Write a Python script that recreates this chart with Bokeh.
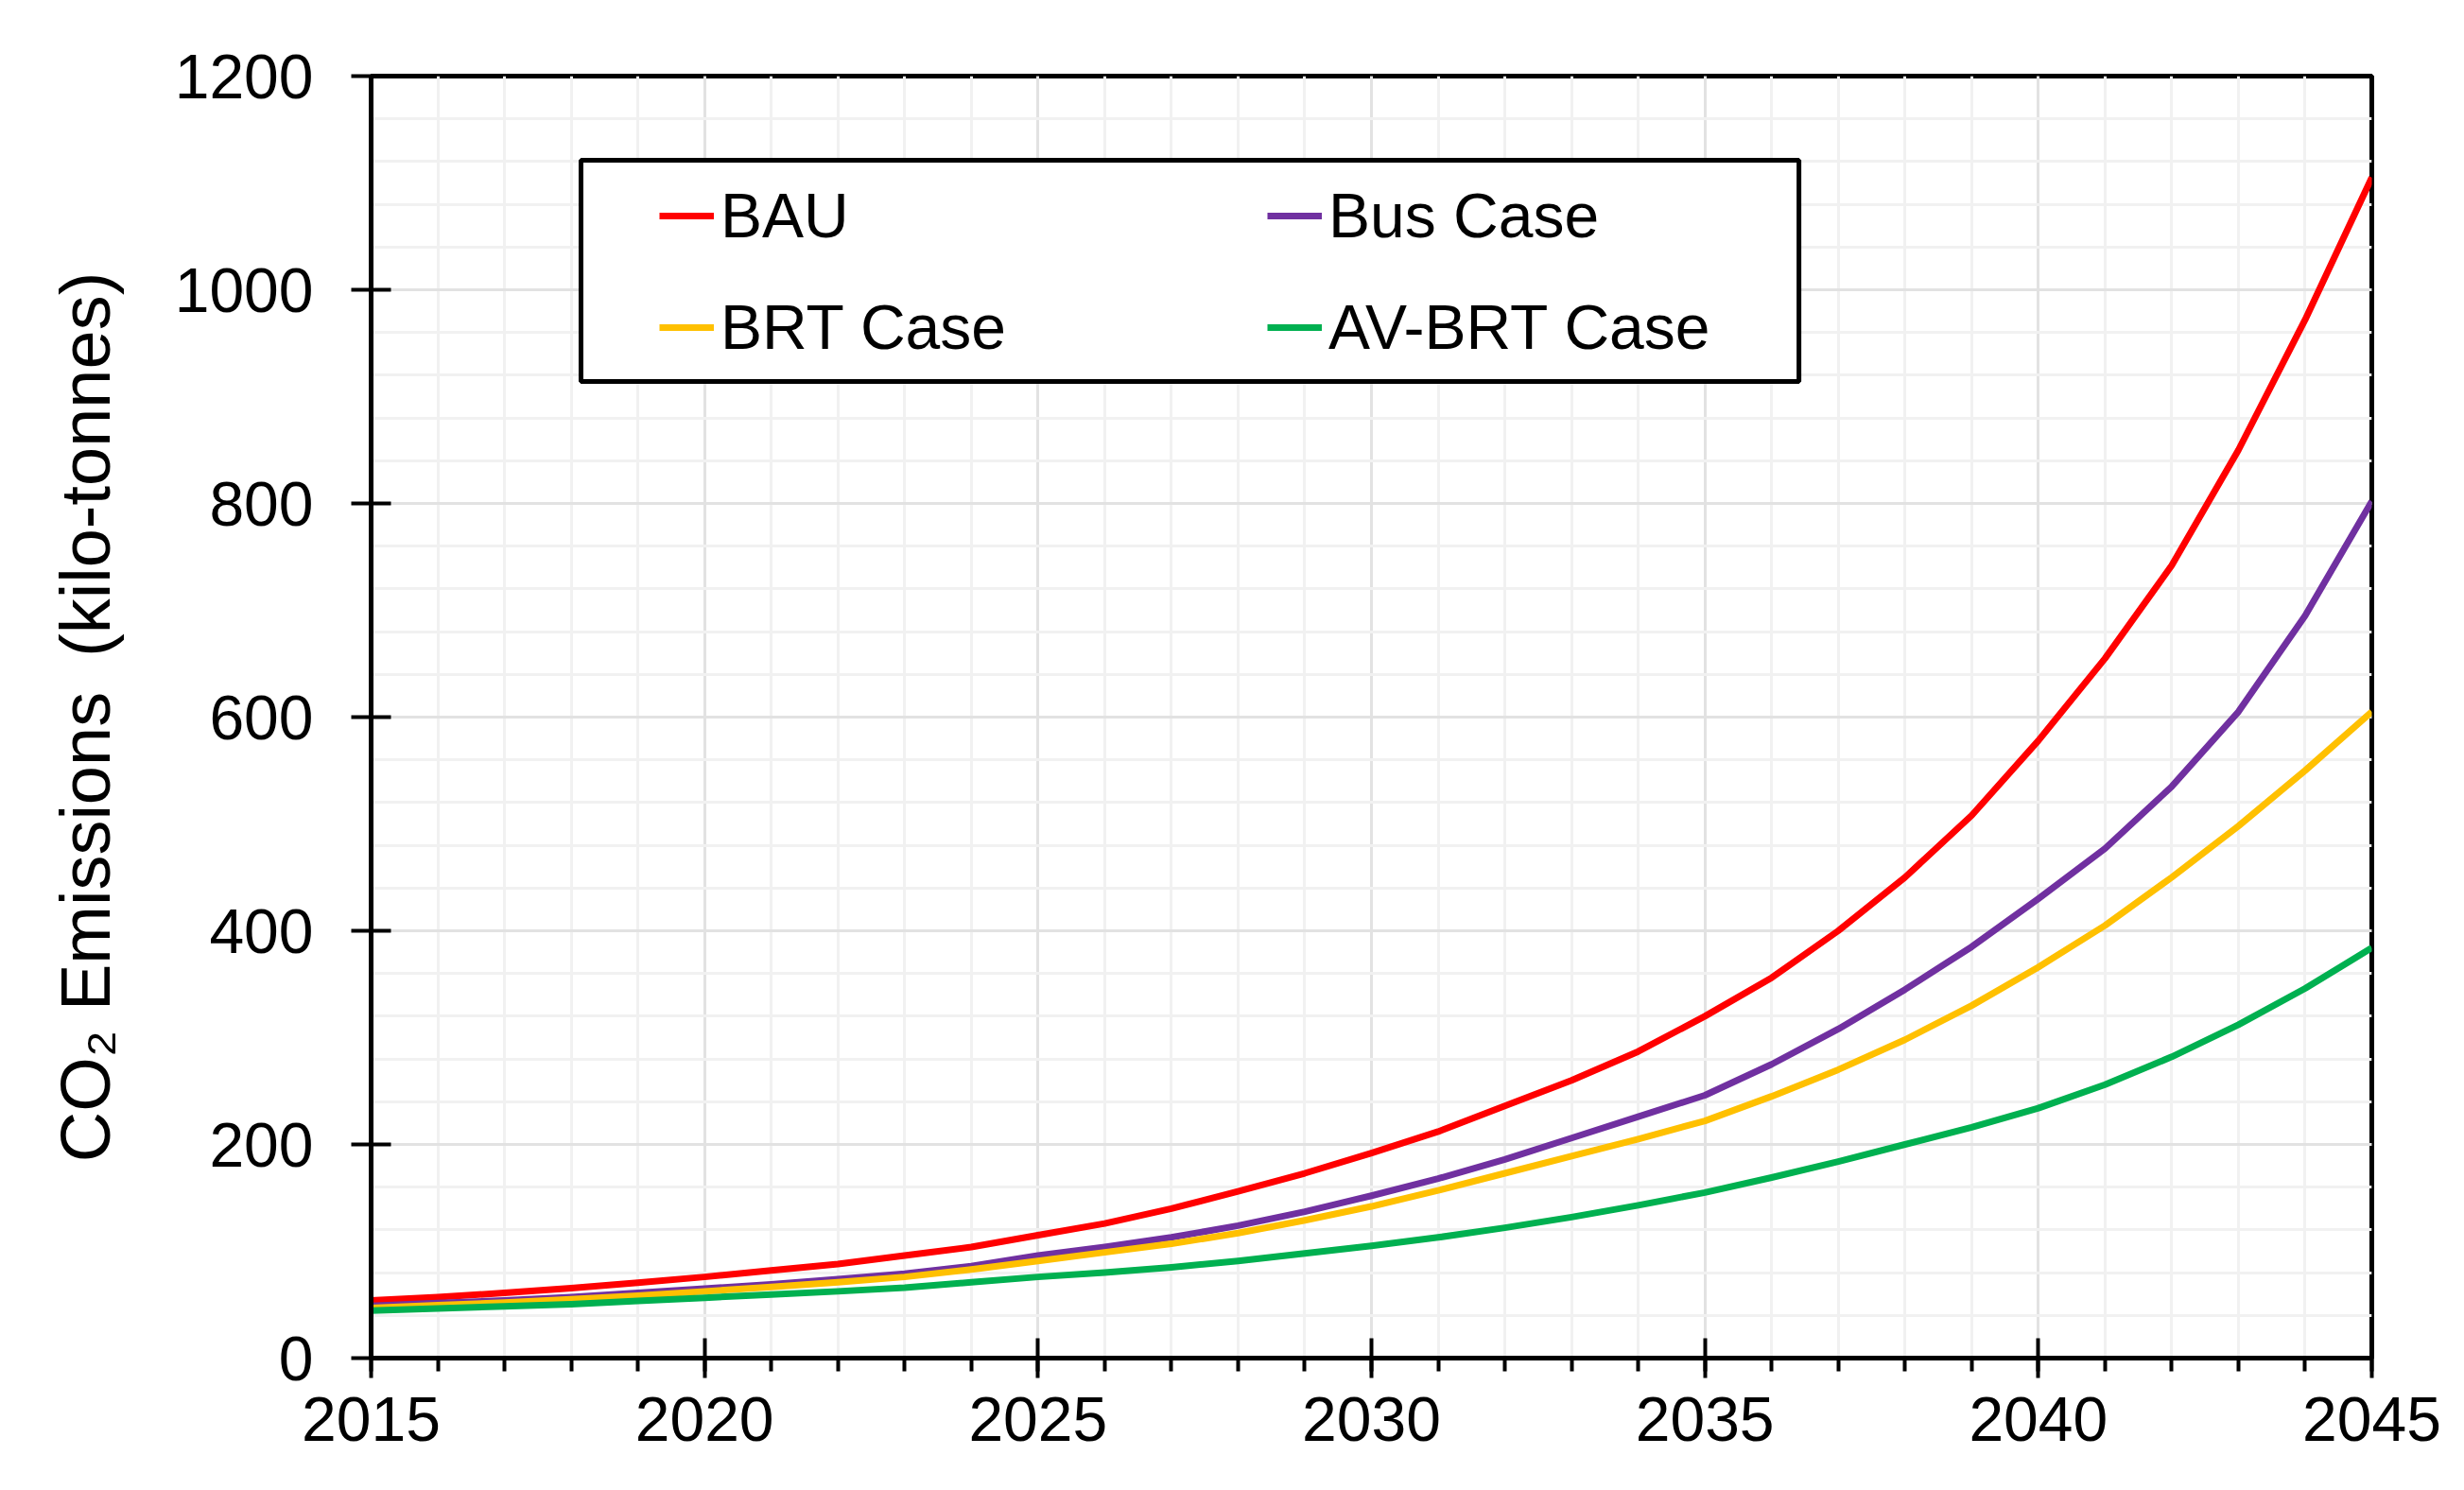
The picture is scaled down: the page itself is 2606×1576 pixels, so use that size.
from bokeh.plotting import figure
from bokeh.models import (Range1d, SingleIntervalTicker, Legend, LegendItem, BoxAnnotation)
from bokeh.embed import file_html
from bokeh.resources import INLINE

years = list(range(2015, 2046))
bau = [54, 57, 61, 65.5, 70.5, 76, 82, 88, 96, 104, 115, 126, 140, 156, 173, 192,
       212, 236, 260, 287, 320, 356, 400, 450, 508, 578, 655, 742, 850, 972, 1105]
bus = [49, 51.5, 54, 57, 61, 65, 69, 74, 79, 86, 96, 104, 113, 124, 137, 152,
       168, 186, 206, 226, 246, 275, 308, 345, 385, 430, 477, 535, 605, 695, 802]
brt = [47, 49.5, 52, 55, 58.5, 62.5, 66.5, 71, 76, 83, 91, 99, 107, 117, 129, 142,
       157, 173, 189, 205, 222, 245, 270, 298, 330, 366, 405, 450, 498, 550, 605]
avbrt = [44.5, 46.5, 48.5, 50.5, 53.5, 56.5, 59.5, 62.5, 66, 71, 76, 80, 85, 91, 98, 105,
         113, 122, 132, 143, 155, 169, 184, 200, 216, 234, 256, 282, 312, 346, 384]

series_names = ["BAU", "Bus Case", "BRT Case", "AV-BRT Case"]
series_values = [bau, bus, brt, avbrt]
series_colors = ["#FF0000", "#7030A0", "#FFC000", "#00B050"]

FONT = "Liberation Sans"

p = figure(width=2590, height=1560, output_backend="svg", toolbar_location=None,
           x_range=Range1d(2015, 2045), y_range=Range1d(0, 1200),
           min_border_left=392, min_border_right=82, min_border_top=80, min_border_bottom=124)
p.background_fill_color = "white"
p.border_fill_color = "white"
p.outline_line_color = "black"
p.outline_line_width = 5
p.outline_line_alpha = 1

p.xaxis.ticker = SingleIntervalTicker(interval=5, num_minor_ticks=5)
p.yaxis.ticker = SingleIntervalTicker(interval=200, num_minor_ticks=5)

for ax in (p.xaxis, p.yaxis):
    ax.axis_line_width = 5
    ax.axis_line_color = "black"
    ax.major_tick_line_width = 4
    ax.major_tick_line_color = "black"
    ax.major_tick_in = 21
    ax.major_tick_out = 21
    ax.major_label_text_font = FONT
    ax.major_label_text_font_size = "66px"
    ax.major_label_text_color = "black"

p.xaxis.minor_tick_in = 0
p.xaxis.minor_tick_out = 14
p.xaxis.minor_tick_line_width = 4
p.xaxis.minor_tick_line_color = "black"
p.xaxis.major_label_standoff = 20

p.yaxis.minor_tick_line_color = None
p.yaxis.major_label_standoff = 40
p.yaxis.axis_label = "CO\u2082 Emissions\u2002(kilo-tonnes)"
p.yaxis.axis_label_text_font = FONT
p.yaxis.axis_label_text_font_size = "74px"
p.yaxis.axis_label_text_font_style = "normal"
p.yaxis.axis_label_text_color = "black"
p.yaxis.axis_label_standoff = 50

for g in (p.xgrid, p.ygrid):
    g.grid_line_color = "#e2e2e2"
    g.grid_line_width = 3
    g.minor_grid_line_color = "#f1f1f1"
    g.minor_grid_line_width = 3

items = []
for name, vals, col in zip(series_names, series_values, series_colors):
    r = p.line(years, vals, line_color=col, line_width=7, line_join="round")
    items.append(LegendItem(label=name, renderers=[r]))

frame_box = BoxAnnotation(left=2018.147, right=2036.41, bottom=914.2, top=1121.2,
                          fill_color="white", fill_alpha=1.0,
                          line_color="black", line_alpha=1.0, line_width=5)
p.add_layout(frame_box)

legend = Legend(items=items, orientation="horizontal", ncols=2,
                location=(305, 1050), padding=0, margin=0, spacing=38,
                glyph_width=58, glyph_height=80, label_height=80, label_width=540,
                label_standoff=7, label_text_font=FONT, label_text_font_size="66px",
                label_text_color="black",
                border_line_alpha=0, background_fill_alpha=0)
p.add_layout(legend, "center")

open("out.html", "w").write(file_html(p, INLINE))
